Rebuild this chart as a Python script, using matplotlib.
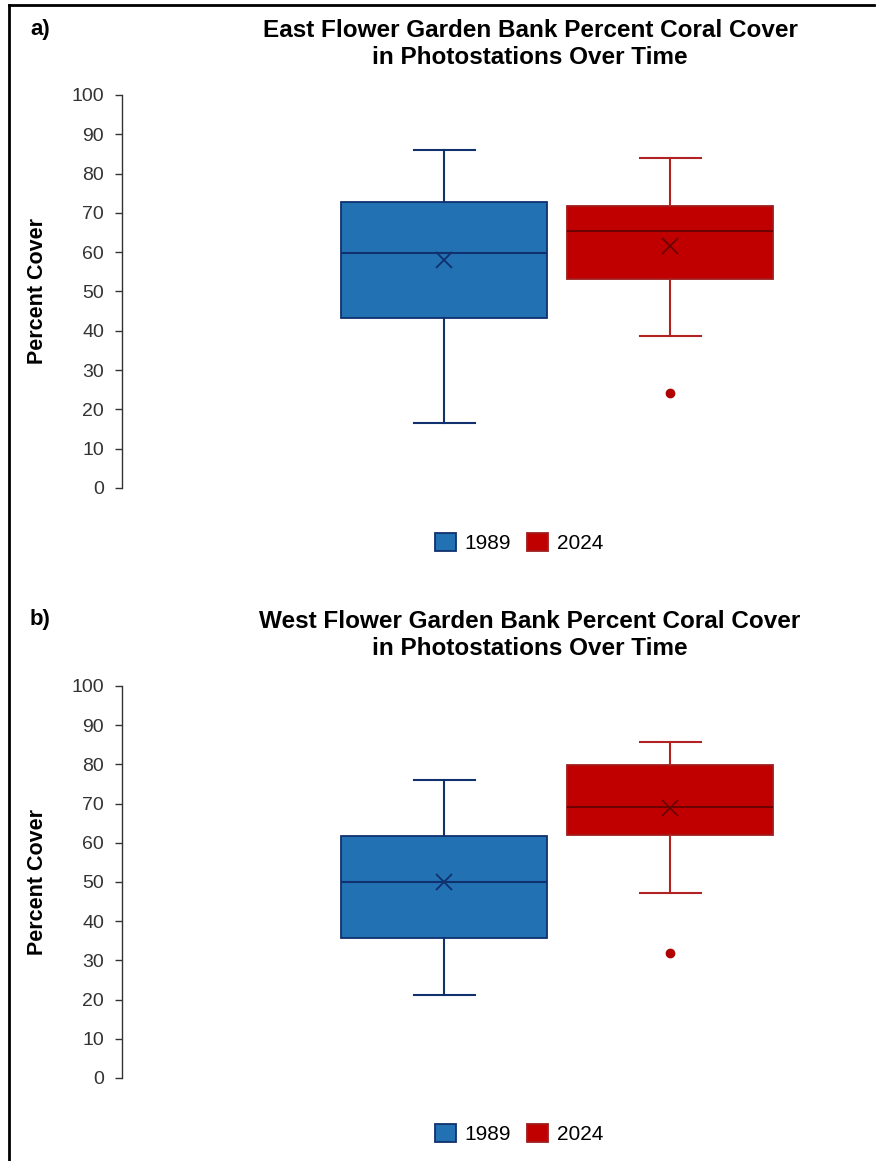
import matplotlib.pyplot as plt
from matplotlib.patches import Patch
from matplotlib.lines import Line2D

plt.rcParams['font.family'] = ['Liberation Sans', 'DejaVu Sans']

years = ['1989', '2024']
fill_colors = ['#2271b3', '#c00000']
edge_colors = ['#10306e', '#a01c1c']
line_colors = ['#10306e', '#b22222']

# box statistics per bank: [1989, 2024]
east_q1 = [43.3, 53.2]
east_med = [59.8, 65.4]
east_q3 = [72.8, 71.8]
east_low = [16.5, 38.7]
east_high = [86.0, 84.0]
east_mean = [58.0, 61.6]
east_fliers = [[], [24.2]]

west_q1 = [35.7, 62.0]
west_med = [50.0, 69.1]
west_q3 = [61.7, 79.8]
west_low = [21.2, 47.2]
west_high = [76.0, 85.7]
west_mean = [50.0, 68.9]
west_fliers = [[], [31.8]]

yticks = list(range(0, 101, 10))

W, H = 877, 1161
fig = plt.figure(figsize=(W / 100, H / 100), dpi=100)


def px_axes(left, right, top, bottom):
    return fig.add_axes([left / W, 1 - bottom / H, (right - left) / W, (bottom - top) / H])


def draw_panel(ax, q1, med, q3, low, high, mean, fliers):
    for i in range(2):
        stats = [dict(med=med[i], q1=q1[i], q3=q3[i], whislo=low[i], whishi=high[i],
                      mean=mean[i], fliers=fliers[i])]
        ax.bxp(stats, positions=[i + 1], widths=0.91, patch_artist=True,
               showmeans=True, meanline=False, showfliers=True,
               boxprops=dict(facecolor=fill_colors[i], edgecolor=edge_colors[i], linewidth=1.3),
               medianprops=dict(color=edge_colors[i] if i == 0 else '#6e0000', linewidth=1.5),
               whiskerprops=dict(color=line_colors[i], linewidth=1.5),
               capprops=dict(color=line_colors[i], linewidth=1.5),
               capwidths=0.27,
               meanprops=dict(marker='x', markeredgecolor=edge_colors[i] if i == 0 else '#6e0000',
                              markersize=11, markeredgewidth=1.3),
               flierprops=dict(marker='o', markerfacecolor='#b00000', markeredgecolor='#b00000',
                               markersize=6))
    ax.set_xlim(-0.425, 2.575)
    ax.set_ylim(0, 100)
    ax.set_yticks(yticks)
    ax.set_yticklabels([str(t) for t in yticks], fontsize=14, color='#333333')
    ax.tick_params(axis='y', direction='out', length=5, width=1, color='#333333', pad=8)
    ax.set_xticks([])
    for s in ['top', 'right', 'bottom']:
        ax.spines[s].set_visible(False)
    ax.spines['left'].set_color('#333333')
    ax.spines['left'].set_linewidth(1)
    ax.set_facecolor('none')


handles = [Patch(facecolor=fill_colors[i], edgecolor=edge_colors[i], linewidth=1.3, label=years[i])
           for i in range(2)]

panels = [
    ('a)', 'East Flower Garden Bank Percent Coral Cover\nin Photostations Over Time',
     95, 488, 44, 543,
     (east_q1, east_med, east_q3, east_low, east_high, east_mean, east_fliers)),
    ('b)', 'West Flower Garden Bank Percent Coral Cover\nin Photostations Over Time',
     686, 1078, 635, 1134,
     (west_q1, west_med, west_q3, west_low, west_high, west_mean, west_fliers)),
]

for tag, title, top, bottom, title_y, leg_y, data in panels:
    ax = px_axes(122, 800, top, bottom)
    draw_panel(ax, *data)
    ax.set_ylabel('Percent Cover', fontsize=15.5, fontweight='bold')
    ax.yaxis.set_label_coords(-74 / 678, 0.5)
    fig.text(530 / W, 1 - title_y / H, title, ha='center', va='center',
             fontsize=17.5, fontweight='bold', linespacing=1.22)
    fig.text(30 / W, 1 - (title_y - 15) / H, tag, ha='left', va='center',
             fontsize=16, fontweight='bold')
    fig.legend(handles=handles, loc='center', bbox_to_anchor=(519 / W, 1 - leg_y / H),
               ncol=2, frameon=False, fontsize=15, handlelength=1.0, handleheight=1.0,
               handletextpad=0.4, columnspacing=0.8)

# frame lines on the left and top edges
fig.add_artist(Line2D([8.5 / W, 8.5 / W], [0, 1 - 5 / H], color='black', linewidth=2))
fig.add_artist(Line2D([8.5 / W, 874 / W], [1 - 5 / H, 1 - 5 / H], color='black', linewidth=2))

fig.savefig('out.png', dpi=100)
